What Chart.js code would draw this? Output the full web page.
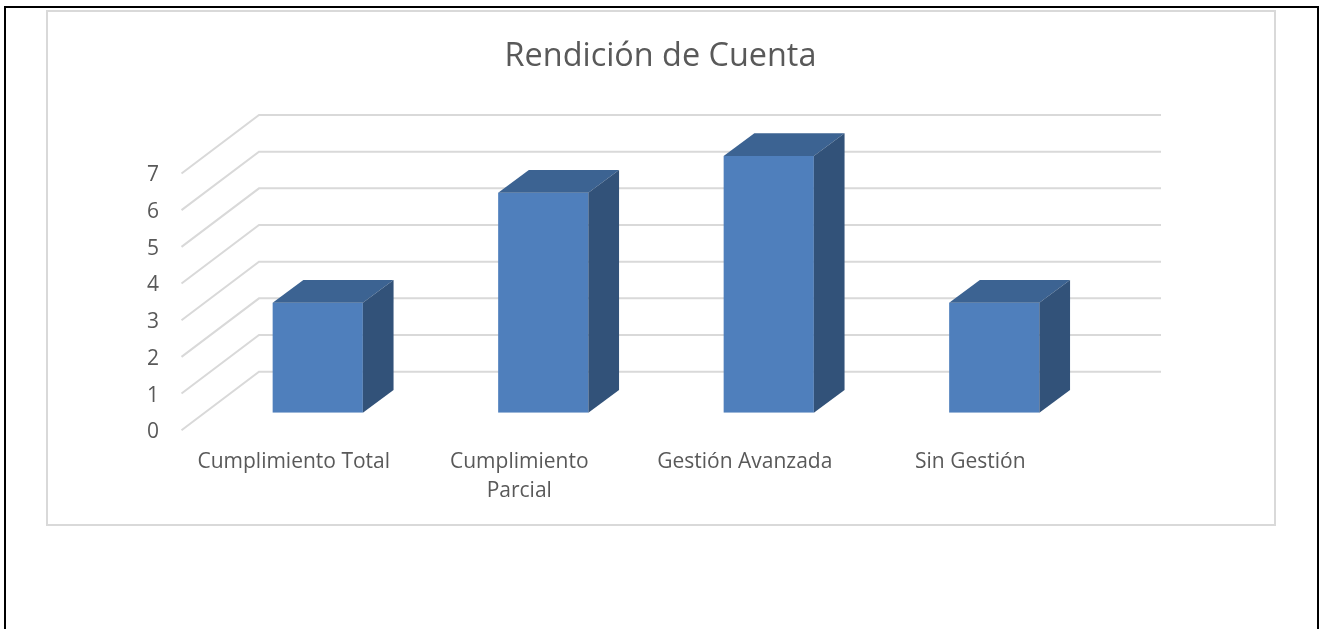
<!DOCTYPE html>
<html lang="es">
<head>
<meta charset="utf-8">
<title>Rendición de Cuenta</title>
<script src="https://cdn.jsdelivr.net/npm/chart.js@4"></script>
<style>
html,body{margin:0;padding:0;background:#fff;width:1321px;height:629px;overflow:hidden}
#frame{position:absolute;left:4px;top:6px;width:1311px;height:640px;border:2.5px solid #000;box-sizing:content-box}
#card{position:absolute;left:46px;top:10px;width:1226px;height:512px;border:2px solid #d9d9d9}
#wrap{position:absolute;left:0;top:0;width:1321px;height:629px}
</style>
</head>
<body>
<div id="frame"></div>
<div id="card"></div>
<div id="wrap"><canvas id="c" width="1321" height="629"></canvas></div>
<script>
const titleText = "Rendición de Cuenta";
const categories = ["Cumplimiento Total", ["Cumplimiento", "Parcial"], "Gestión Avanzada", "Sin Gestión"];
const seriesValues = [3, 6, 7, 3];
const yTicks = [0, 1, 2, 3, 4, 5, 6, 7];

const textColor = "#595959";
const gridColor = "#d9d9d9";
const frontColor = "#4f7fbc";
const topColor = "#3c6392";
const sideColor = "#325279";
const fontFamily = "'Open Sans', sans-serif";

const depth = { x: 30.7, y: 22.7 };
const wall = { frontX: 181.5, backX: 259, rightX: 1161, frontDy: 17.5, backDy: -41 };

const wall3d = {
  id: "wall3d",
  beforeDatasetsDraw(chart) {
    const { ctx } = chart;
    const y = chart.scales.y;
    ctx.save();
    ctx.strokeStyle = gridColor;
    ctx.lineWidth = 2;
    yTicks.forEach(v => {
      const p = y.getPixelForValue(v);
      ctx.beginPath();
      ctx.moveTo(wall.frontX, p + wall.frontDy);
      ctx.lineTo(wall.backX, p + wall.backDy);
      ctx.lineTo(wall.rightX, p + wall.backDy);
      ctx.stroke();
    });
    ctx.restore();
  }
};

const bars3d = {
  id: "bars3d",
  afterDatasetsDraw(chart) {
    const { ctx } = chart;
    chart.getDatasetMeta(0).data.forEach(b => {
      const l = b.x - b.width / 2, r = b.x + b.width / 2, t = b.y, base = b.base;
      ctx.fillStyle = topColor;
      ctx.beginPath();
      ctx.moveTo(l, t);
      ctx.lineTo(l + depth.x, t - depth.y);
      ctx.lineTo(r + depth.x, t - depth.y);
      ctx.lineTo(r, t);
      ctx.closePath();
      ctx.fill();
      ctx.fillStyle = sideColor;
      ctx.beginPath();
      ctx.moveTo(r, t);
      ctx.lineTo(r + depth.x, t - depth.y);
      ctx.lineTo(r + depth.x, base - depth.y);
      ctx.lineTo(r, base);
      ctx.closePath();
      ctx.fill();
    });
  }
};

new Chart(document.getElementById("c"), {
  type: "bar",
  data: {
    labels: categories,
    datasets: [{
      label: titleText,
      data: seriesValues,
      backgroundColor: frontColor,
      categoryPercentage: 1,
      barPercentage: 0.4
    }]
  },
  plugins: [wall3d, bars3d],
  options: {
    responsive: false,
    animation: false,
    layout: { padding: 0 },
    plugins: {
      legend: { display: false },
      tooltip: { enabled: false },
      title: {
        display: true,
        text: titleText,
        color: textColor,
        font: { family: fontFamily, size: 32.4, weight: "normal", lineHeight: 1.2 },
        padding: { top: 37, bottom: 80.1 }
      }
    },
    scales: {
      x: {
        grid: { display: false, drawTicks: false },
        border: { display: false },
        afterFit(s) { s.height = 216.3; },
        ticks: {
          color: textColor,
          font: { family: fontFamily, size: 21, lineHeight: 1.38 },
          labelOffset: -24,
          padding: 35,
          maxRotation: 0,
          minRotation: 0,
          autoSkip: false
        }
      },
      y: {
        min: 0,
        max: 7,
        grid: { display: false, drawTicks: false },
        border: { display: false },
        afterFit(s) { s.width = 205; },
        afterBuildTicks(s) { s.ticks = yTicks.map(v => ({ value: v })); },
        ticks: {
          color: textColor,
          font: { family: fontFamily, size: 21 },
          labelOffset: 19.5,
          padding: 46
        }
      },
      rightGap: {
        type: "linear",
        position: "right",
        display: true,
        grid: { display: false, drawTicks: false },
        border: { display: false },
        ticks: { display: false },
        afterFit(s) { s.width = 214; }
      }
    }
  }
});
</script>
</body>
</html>
